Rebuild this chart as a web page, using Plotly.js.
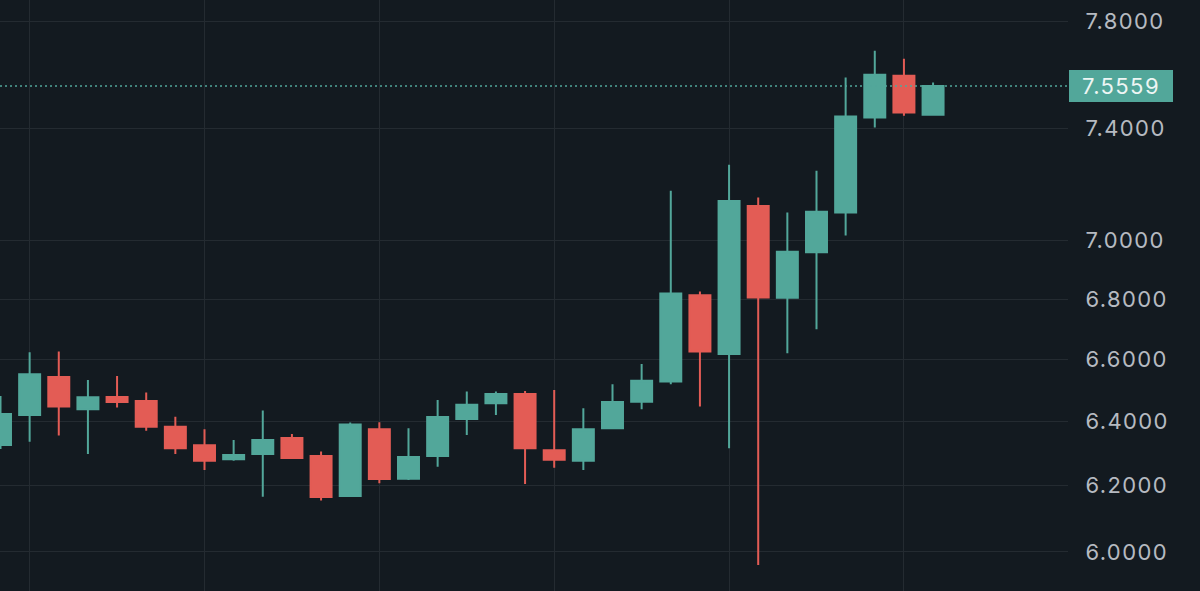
<!DOCTYPE html>
<html>
<head>
<meta charset="utf-8">
<script src="https://cdn.plot.ly/plotly-3.0.1.min.js"></script>
<style>
  html, body { margin: 0; padding: 0; background: #131a20; }
  #chart { width: 1200px; height: 591px; }
  #chart .ytick text, #chart .annotation-text { letter-spacing: 1.4px; }
</style>
</head>
<body>
<div id="chart"></div>
<script>
// OHLC values (one candle per period)
const open  = [6.3264, 6.4210, 6.5430, 6.4392, 6.4785, 6.4657, 6.3839, 6.3254, 6.2817, 6.2983, 6.3483, 6.2920, 6.1687, 6.3757, 6.2214, 6.2920, 6.4083, 6.4583, 6.4881, 6.3098, 6.2774, 6.3789, 6.4634, 6.5278, 6.8130, 6.6179, 7.1199, 6.8039, 6.9589, 7.0974, 7.4391, 7.5943, 7.4491];
const high  = [6.4817, 6.6235, 6.6254, 6.5333, 6.5462, 6.4923, 6.4156, 6.3757, 6.3420, 6.4347, 6.3609, 6.3061, 6.3966, 6.3979, 6.3789, 6.4689, 6.4955, 6.4955, 6.4978, 6.5010, 6.4424, 6.5194, 6.5852, 7.1740, 6.8251, 7.2669, 7.1503, 7.0974, 7.2454, 7.5879, 7.6888, 7.6585, 7.5691];
const low   = [6.3139, 6.3367, 6.3556, 6.2983, 6.4443, 6.3713, 6.2983, 6.2486, 6.2774, 6.1665, 6.2842, 6.1549, 6.1656, 6.2076, 6.2177, 6.2588, 6.3578, 6.4210, 6.2054, 6.2557, 6.2486, 6.3780, 6.4392, 6.5194, 6.4475, 6.3161, 5.9615, 6.6202, 6.6993, 7.0170, 7.4024, 7.4454, 7.4454];
const close = [6.4242, 6.5517, 6.4475, 6.4775, 6.4625, 6.3839, 6.3161, 6.2774, 6.2951, 6.3420, 6.2858, 6.1656, 6.3903, 6.2208, 6.2889, 6.4147, 6.4535, 6.4881, 6.3161, 6.2805, 6.3757, 6.4625, 6.5307, 6.8184, 6.6254, 7.1375, 6.8049, 6.9606, 7.0998, 7.4428, 7.5980, 7.4576, 7.5559];

// axis ticks
const priceTicks = [6.0, 6.2, 6.4, 6.6, 6.8, 7.0, 7.4, 7.8];
const priceTickLabels = ['6.0000', '6.2000', '6.4000', '6.6000', '6.8000', '7.0000', '7.4000', '7.8000'];
const timeGrid = [1, 7, 13, 19, 25, 31];
const priceRange = [5.8853, 7.8843];
const periodRange = [-0.017, 36.63];

const idx = open.map((_, i) => i);
const lastClose = close[close.length - 1];

const UP = '#52a79a';
const DOWN = '#e35c55';
const BG = '#131a20';
const GRID = '#242b31';
const FONT = 'Inter, "Open Sans", sans-serif';

const trace = {
  type: 'candlestick',
  x: idx,
  open: open, high: high, low: low, close: close,
  increasing: { line: { color: UP, width: 2 }, fillcolor: UP },
  decreasing: { line: { color: DOWN, width: 2 }, fillcolor: DOWN },
  whiskerwidth: 0,
  hoverinfo: 'skip',
  showlegend: false
};

const layout = {
  width: 1200, height: 591,
  margin: { l: 0, r: 132, t: 0, b: 0, pad: 0 },
  paper_bgcolor: BG,
  plot_bgcolor: BG,
  boxgap: 0.28,
  boxgroupgap: 0,
  showlegend: false,
  font: { family: FONT, color: '#b6bac1', size: 22 },
  xaxis: {
    range: periodRange,
    showticklabels: false,
    tickvals: timeGrid,
    showgrid: true,
    gridcolor: GRID,
    gridwidth: 1,
    zeroline: false,
    showline: false,
    ticks: '',
    rangeslider: { visible: false },
    fixedrange: true
  },
  yaxis: {
    type: 'log',
    side: 'right',
    range: priceRange.map(v => Math.log10(v)),
    tickvals: priceTicks,
    ticktext: priceTickLabels,
    showgrid: true,
    gridcolor: GRID,
    gridwidth: 1,
    zeroline: false,
    showline: false,
    ticks: 'outside',
    ticklen: 12,
    tickcolor: 'rgba(0,0,0,0)',
    tickfont: { family: FONT, color: '#b6bac1', size: 22 },
    fixedrange: true
  },
  shapes: [{
    type: 'line',
    xref: 'paper', yref: 'y',
    x0: 0, x1: 1,
    y0: lastClose, y1: lastClose,
    line: { color: UP, width: 1.6, dash: '2px,3px' }
  }],
  annotations: [{
    xref: 'paper', yref: 'y',
    x: 1, y: Math.log10(lastClose),
    xanchor: 'left', yanchor: 'middle',
    xshift: 1,
    text: lastClose.toFixed(4),
    showarrow: false,
    bgcolor: UP,
    bordercolor: UP,
    borderwidth: 0,
    borderpad: 0,
    width: 104,
    height: 32,
    align: 'center',
    font: { family: FONT, color: '#eef6f4', size: 22 }
  }]
};

Plotly.newPlot('chart', [trace], layout, { displayModeBar: false, staticPlot: true });
</script>
</body>
</html>
